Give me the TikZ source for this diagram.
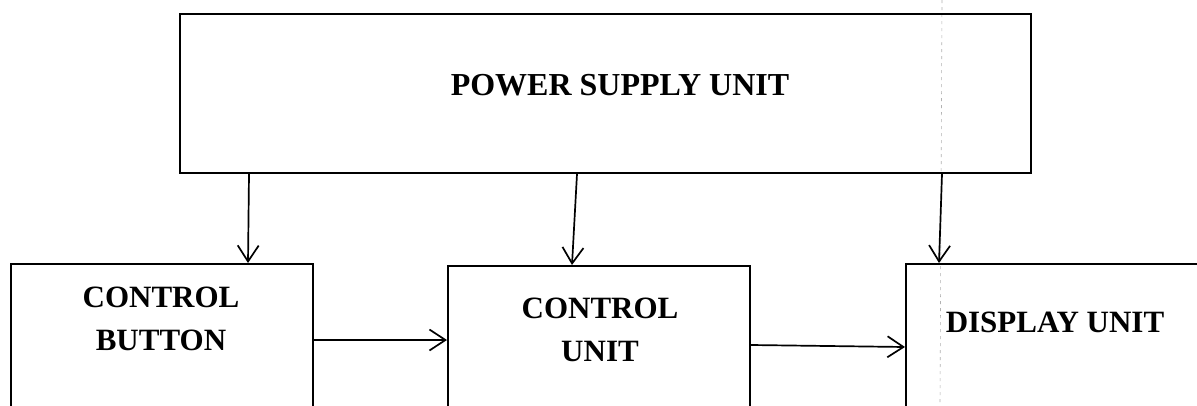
\documentclass[tikz,border=0pt]{standalone}
\usepackage{fontspec}
\setmainfont{Liberation Serif}
\usetikzlibrary{arrows.meta}
\begin{document}
\begin{tikzpicture}[x=1pt,y=-1pt,
  blk/.style={draw=black,line width=2pt,rectangle,inner sep=0pt,anchor=north west},
  lbl/.style={font=\fontsize{31}{43}\selectfont\bfseries,align=center,inner sep=0pt},
  arr/.style={line width=1.7pt,-{Straight Barb[length=16pt,width=21pt,line width=1.7pt]}}]
\useasboundingbox (0,0) rectangle (1197,405);
\clip (0,0) rectangle (1197,405);
\fill[white] (0,0) rectangle (1197,405);
\draw[black!30,line width=0.6pt,dash pattern=on 3pt off 4pt] (942,0) -- (940,405);
\node[blk,minimum width=851pt,minimum height=159pt] (psu) at (179,13) {};
\node[blk,minimum width=302pt,minimum height=200pt] (cb) at (10,263) {};
\node[blk,minimum width=302pt,minimum height=200pt] (cu) at (447,265) {};
\node[blk,minimum width=400pt,minimum height=200pt] (du) at (905,263) {};
\node[lbl,font=\fontsize{32}{40}\selectfont\bfseries] (tpsu) at (620,85) {POWER SUPPLY UNIT};
\node[lbl] (tcb) at (161,319) {CONTROL\\BUTTON};
\node[lbl] (tcu) at (600,330) {CONTROL\\UNIT};
\node[lbl] (tdu) at (1055,322.5) {DISPLAY UNIT};
\draw[arr] ([xshift=70pt]psu.south west) -- ([xshift=238pt]cb.north west);
\draw[arr] ([xshift=398pt]psu.south west) -- ([xshift=125pt]cu.north west);
\draw[arr] ([xshift=763pt]psu.south west) -- ([xshift=34pt]du.north west);
\draw[arr] ([yshift=-77pt]cb.north east) -- ([yshift=-75pt]cu.north west);
\draw[arr] ([yshift=-80pt]cu.north east) -- ([yshift=-84pt]du.north west);
\end{tikzpicture}
\end{document}
